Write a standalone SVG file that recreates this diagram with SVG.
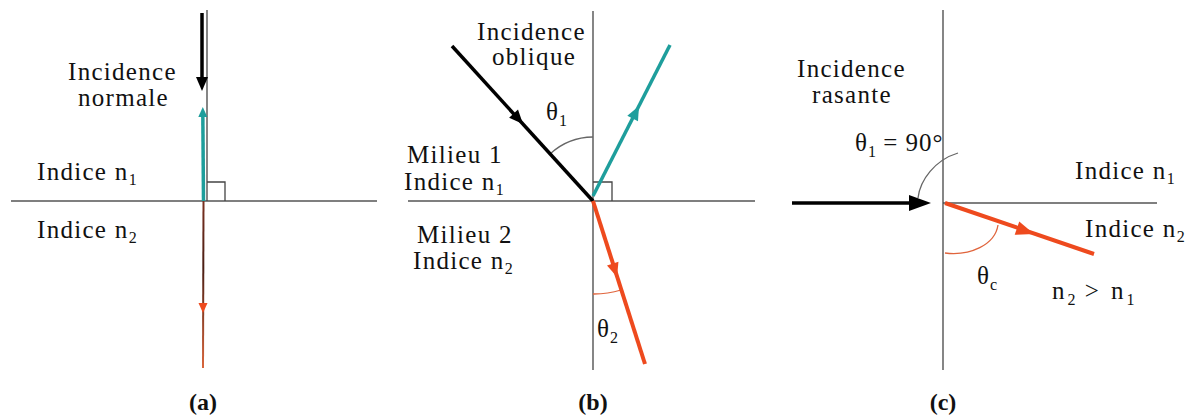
<svg xmlns="http://www.w3.org/2000/svg" width="1192" height="417" viewBox="0 0 1192 417">
<style>
  text { font-family: "Liberation Serif", "Times New Roman", serif; font-size: 25px; fill: #111; letter-spacing: 1.3px; }
  .sub { font-size: 16px; letter-spacing: 0; }
  .math { letter-spacing: 1px; }
  .cap { font-weight: bold; font-size: 24px; letter-spacing: 0; text-anchor: middle; }
  .axis { stroke: #555; stroke-width: 1.6; fill: none; }
  .thin { stroke: #444; stroke-width: 1.3; fill: none; }
  .inc { stroke: #000; stroke-width: 3.5; fill: none; }
  .refl { stroke: #1e9e9c; stroke-width: 3.5; fill: none; }
  .refr { stroke: #ee4a1e; stroke-width: 4; fill: none; }
  .arcg { stroke: #666; stroke-width: 1.3; fill: none; }
  .arcr { stroke: #e0643c; stroke-width: 1.3; fill: none; }
</style>
<defs>
  <path id="ah" d="M0,0 L-14,-6 L-14,6 Z"/>
  <path id="ahs" d="M0,0 L-10,-4.5 L-10,4.5 Z"/>
  <linearGradient id="gr" x1="0" y1="201" x2="0" y2="368" gradientUnits="userSpaceOnUse">
    <stop offset="0" stop-color="#7a3020"/>
    <stop offset="0.4" stop-color="#4a1e14"/>
    <stop offset="1" stop-color="#d9663c"/>
  </linearGradient>
</defs>
<rect width="1192" height="417" fill="#fff"/>

<g id="panel-a">
  <line class="axis" x1="11" y1="201" x2="377" y2="201"/>
  <line class="thin" x1="207" y1="10" x2="207" y2="201"/>
  <polyline class="thin" points="207,182 225,182 225,201"/>
  <text x="68" y="80">Incidence</text>
  <text x="78" y="106">normale</text>
  <text x="37" y="180">Indice n<tspan class="sub" dy="5">1</tspan></text>
  <text x="37" y="238">Indice n<tspan class="sub" dy="5">2</tspan></text>
  <text class="cap" x="203" y="410">(a)</text>
</g>

<g id="panel-b">
  <line class="axis" x1="408" y1="201" x2="755" y2="201"/>
  <line class="thin" x1="593" y1="11" x2="593" y2="370"/>
  <polyline class="thin" points="593,182 612,182 612,201"/>
  <path class="arcg" d="M593,137 A64,64 0 0 0 550,154"/>
  <path class="arcr" d="M593,294 A93,93 0 0 0 621,290"/>
  <text x="477" y="40">Incidence</text>
  <text x="492" y="65">oblique</text>
  <text class="math" x="546" y="120">θ<tspan class="sub" dy="6">1</tspan></text>
  <text x="407" y="163">Milieu 1</text>
  <text x="404" y="190">Indice n<tspan class="sub" dy="5">1</tspan></text>
  <text x="417" y="243">Milieu 2</text>
  <text x="413" y="269">Indice n<tspan class="sub" dy="5">2</tspan></text>
  <text class="math" x="597" y="337">θ<tspan class="sub" dy="6">2</tspan></text>
  <text class="cap" x="593" y="410">(b)</text>
</g>

<g id="panel-c">
  <line class="axis" x1="943" y1="203" x2="1157" y2="203"/>
  <line class="thin" x1="943" y1="10" x2="943" y2="370"/>
  <path class="arcg" d="M958,153 C935,160 920,180 918,198"/>
  <path class="arcr" d="M945,253 C970,256 995,245 998,225"/>
  <text x="797" y="77">Incidence</text>
  <text x="812" y="103">rasante</text>
  <text class="math" x="855" y="151">θ<tspan class="sub" dy="6">1</tspan><tspan dy="-6"> = 90°</tspan></text>
  <text x="1075" y="179">Indice n<tspan class="sub" dy="5">1</tspan></text>
  <text x="1085" y="237">Indice n<tspan class="sub" dy="5">2</tspan></text>
  <text class="math" x="977" y="284">θ<tspan class="sub" dy="6">c</tspan></text>
  <text class="math" x="1052" y="299" style="letter-spacing:3px">n<tspan class="sub" dy="6">2</tspan><tspan dy="-6"> &gt; n</tspan><tspan class="sub" dy="6">1</tspan></text>
  <text class="cap" x="943" y="410">(c)</text>
</g>

<g id="connectors">
  <!-- panel a -->
  <line class="inc" x1="202" y1="13" x2="202" y2="80" stroke-width="4.5"/>
  <use href="#ah" transform="translate(202,91) rotate(90)" fill="#000"/>
  <line class="refl" x1="203.5" y1="201" x2="202.8" y2="112" stroke-width="2"/>
  <use href="#ahs" transform="translate(202.8,107) rotate(-90)" fill="#1e9e9c"/>
  <line x1="203.5" y1="201" x2="203" y2="368" stroke="url(#gr)" stroke-width="2"/>
  <use href="#ahs" transform="translate(203,313) rotate(90)" fill="#ee4a1e"/>
  <!-- panel b -->
  <line class="inc" x1="452" y1="46" x2="593" y2="201"/>
  <use href="#ah" transform="translate(523,124) rotate(47.7)" fill="#000"/>
  <line class="refl" x1="593" y1="196" x2="670" y2="45"/>
  <use href="#ah" transform="translate(639,106) rotate(-63)" fill="#1e9e9c"/>
  <line class="refr" x1="593" y1="201" x2="645" y2="364"/>
  <use href="#ah" transform="translate(617,277) rotate(72.3)" fill="#ee4a1e"/>
  <!-- panel c -->
  <line class="inc" x1="792" y1="203" x2="915" y2="203"/>
  <path d="M931,203 L909,195 L909,211 Z" fill="#000"/>
  <line class="refr" x1="945" y1="203" x2="1094" y2="254"/>
  <path d="M0,0 L-18,-7 L-18,7 Z" transform="translate(1034,234) rotate(18.9)" fill="#ee4a1e"/>
</g>
</svg>
